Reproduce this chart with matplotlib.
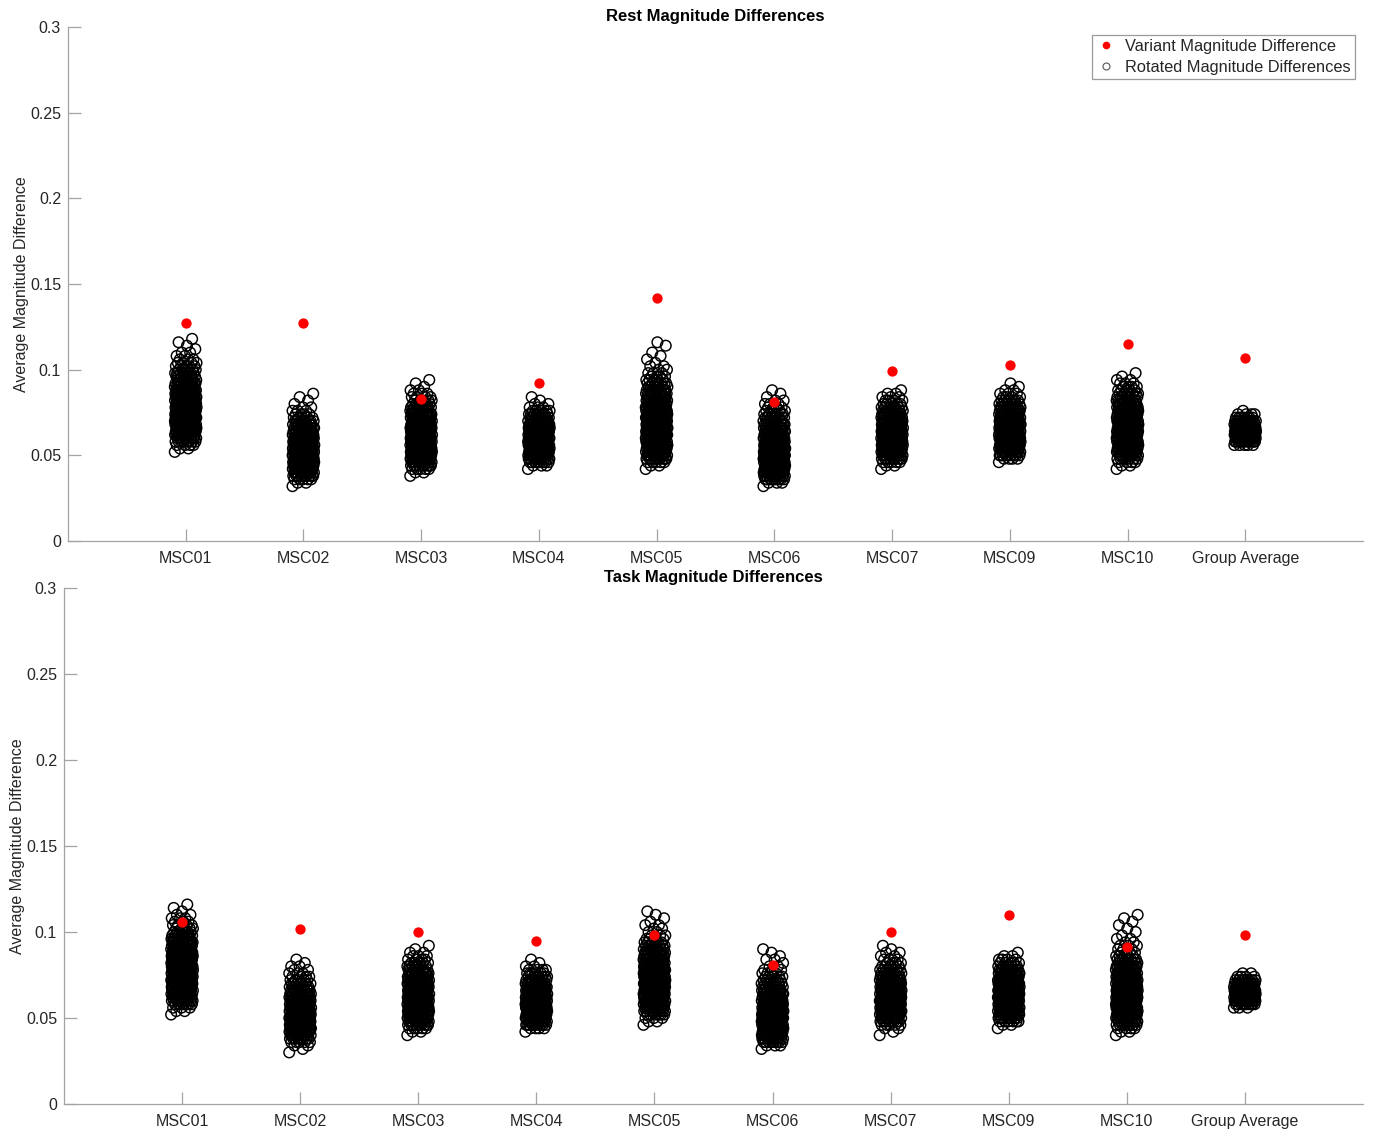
import numpy as np
import matplotlib
matplotlib.use("Agg")
import matplotlib.pyplot as plt
from matplotlib.lines import Line2D

plt.rcParams["font.family"] = ["Liberation Sans", "DejaVu Sans"]

categories = ["MSC01", "MSC02", "MSC03", "MSC04", "MSC05",
              "MSC06", "MSC07", "MSC09", "MSC10", "Group Average"]
y_ticks = [0, 0.05, 0.1, 0.15, 0.2, 0.25, 0.3]
y_tick_labels = ["0", "0.05", "0.1", "0.15", "0.2", "0.25", "0.3"]

# Observed (variant) magnitude differences
rest_variant = [0.127, 0.127, 0.083, 0.092, 0.142, 0.081, 0.099, 0.103, 0.115, 0.107]
task_variant = [0.106, 0.102, 0.100, 0.095, 0.098, 0.081, 0.100, 0.110, 0.091, 0.098]

# Rotated (null) magnitude differences, binned: bin centres (x1e-3) and counts per bin
bin_centres = [30, 32, 34, 36, 38, 40, 42, 44, 46, 48, 50, 52, 54, 56, 58, 60, 62, 64, 66, 68, 70, 72, 74,
               76, 78, 80, 82, 84, 86, 88, 90, 92, 94, 96, 98, 100, 102, 104, 106, 108, 110, 112, 114,
               116, 118, 120]

rest_msc01 = [0, 0, 0, 0, 0, 0, 0, 0, 0, 0, 0, 1, 2, 4, 8, 10, 12, 13, 14, 15, 16, 16, 16,
              16, 16, 16, 15, 14, 13, 12, 11, 10, 9, 8, 7, 6, 5, 4, 3, 2, 2, 1, 1, 1, 1, 0]
rest_msc02 = [0, 1, 2, 5, 9, 11, 13, 14, 15, 16, 16, 16, 16, 15, 14, 13, 12, 11, 10, 8, 7, 5, 4,
              3, 2, 1, 1, 1, 1, 0, 0, 0, 0, 0, 0, 0, 0, 0, 0, 0, 0, 0, 0, 0, 0, 0]
rest_msc03 = [0, 0, 0, 0, 1, 2, 5, 9, 11, 13, 14, 15, 15, 16, 16, 16, 16, 15, 15, 14, 13, 12, 11,
              10, 8, 7, 5, 4, 3, 2, 1, 1, 1, 0, 0, 0, 0, 0, 0, 0, 0, 0, 0, 0, 0, 0]
rest_msc04 = [0, 0, 0, 0, 0, 0, 1, 3, 8, 11, 13, 14, 15, 16, 16, 16, 16, 15, 14, 13, 11, 9, 7,
              5, 3, 2, 1, 1, 0, 0, 0, 0, 0, 0, 0, 0, 0, 0, 0, 0, 0, 0, 0, 0, 0, 0]
rest_msc05 = [0, 0, 0, 0, 0, 0, 1, 2, 5, 9, 11, 12, 13, 14, 15, 15, 16, 16, 16, 16, 16, 15, 15,
              14, 13, 12, 11, 10, 9, 8, 7, 6, 5, 4, 3, 2, 2, 1, 1, 1, 1, 0, 1, 1, 0, 0]
rest_msc06 = [0, 1, 3, 8, 11, 13, 14, 15, 16, 16, 16, 16, 16, 15, 14, 13, 12, 11, 10, 9, 8, 7, 6,
              5, 4, 3, 2, 1, 1, 1, 0, 0, 0, 0, 0, 0, 0, 0, 0, 0, 0, 0, 0, 0, 0, 0]
rest_msc07 = [0, 0, 0, 0, 0, 0, 1, 2, 5, 9, 11, 13, 14, 15, 16, 16, 16, 16, 15, 14, 13, 12, 10,
              9, 7, 5, 4, 3, 2, 1, 0, 0, 0, 0, 0, 0, 0, 0, 0, 0, 0, 0, 0, 0, 0, 0]
rest_msc09 = [0, 0, 0, 0, 0, 0, 0, 0, 1, 4, 9, 11, 13, 14, 15, 16, 16, 16, 16, 15, 14, 13, 12,
              11, 9, 8, 6, 4, 3, 2, 1, 1, 0, 0, 0, 0, 0, 0, 0, 0, 0, 0, 0, 0, 0, 0]
rest_msc10 = [0, 0, 0, 0, 0, 0, 1, 2, 4, 7, 10, 12, 13, 14, 15, 16, 16, 16, 16, 15, 15, 14, 13,
              12, 11, 10, 9, 8, 6, 5, 4, 3, 2, 1, 1, 0, 0, 0, 0, 0, 0, 0, 0, 0, 0, 0]
rest_group = [0, 0, 0, 0, 0, 0, 0, 0, 0, 0, 0, 0, 0, 5, 12, 16, 18, 18, 17, 14, 11, 7, 4,
              1, 0, 0, 0, 0, 0, 0, 0, 0, 0, 0, 0, 0, 0, 0, 0, 0, 0, 0, 0, 0, 0, 0]

task_msc01 = [0, 0, 0, 0, 0, 0, 0, 0, 0, 0, 0, 1, 2, 3, 7, 10, 11, 12, 13, 14, 15, 15, 16,
              16, 16, 16, 16, 15, 15, 14, 13, 12, 11, 10, 8, 7, 5, 4, 3, 3, 2, 1, 1, 1, 0, 0]
task_msc02 = [1, 1, 2, 5, 9, 11, 13, 14, 15, 16, 16, 16, 16, 15, 14, 13, 12, 11, 9, 8, 6, 5, 4,
              3, 2, 2, 1, 1, 0, 0, 0, 0, 0, 0, 0, 0, 0, 0, 0, 0, 0, 0, 0, 0, 0, 0]
task_msc03 = [0, 0, 0, 0, 0, 1, 2, 5, 9, 11, 13, 14, 15, 15, 16, 16, 16, 16, 15, 14, 13, 12, 11,
              10, 8, 7, 5, 4, 3, 2, 1, 1, 0, 0, 0, 0, 0, 0, 0, 0, 0, 0, 0, 0, 0, 0]
task_msc04 = [0, 0, 0, 0, 0, 0, 1, 4, 9, 12, 13, 14, 15, 16, 16, 16, 16, 15, 14, 13, 11, 9, 7,
              6, 4, 2, 1, 1, 0, 0, 0, 0, 0, 0, 0, 0, 0, 0, 0, 0, 0, 0, 0, 0, 0, 0]
task_msc05 = [0, 0, 0, 0, 0, 0, 0, 0, 1, 2, 3, 6, 10, 12, 13, 14, 15, 15, 16, 16, 16, 16, 16,
              15, 15, 14, 13, 12, 11, 10, 8, 7, 6, 4, 3, 2, 2, 2, 1, 1, 1, 1, 0, 0, 0, 0]
task_msc06 = [0, 1, 3, 8, 11, 13, 14, 15, 16, 16, 16, 16, 16, 15, 14, 13, 12, 11, 9, 8, 7, 6, 5,
              4, 3, 2, 1, 2, 1, 1, 1, 0, 0, 0, 0, 0, 0, 0, 0, 0, 0, 0, 0, 0, 0, 0]
task_msc07 = [0, 0, 0, 0, 0, 1, 1, 2, 5, 9, 11, 13, 14, 15, 16, 16, 16, 16, 15, 14, 13, 11, 10,
              8, 7, 5, 4, 3, 2, 2, 1, 1, 0, 0, 0, 0, 0, 0, 0, 0, 0, 0, 0, 0, 0, 0]
task_msc09 = [0, 0, 0, 0, 0, 0, 0, 1, 2, 6, 10, 12, 13, 14, 15, 16, 16, 16, 16, 15, 14, 13, 12,
              10, 9, 7, 5, 4, 2, 1, 0, 0, 0, 0, 0, 0, 0, 0, 0, 0, 0, 0, 0, 0, 0, 0]
task_msc10 = [0, 0, 0, 0, 0, 1, 2, 4, 8, 10, 12, 13, 14, 15, 15, 16, 16, 16, 16, 15, 15, 14, 13,
              12, 11, 10, 8, 7, 5, 4, 3, 3, 2, 2, 1, 1, 1, 1, 1, 1, 1, 0, 0, 0, 0, 0]
task_group = [0, 0, 0, 0, 0, 0, 0, 0, 0, 0, 0, 0, 0, 3, 10, 16, 18, 18, 17, 15, 12, 8, 4,
              2, 0, 0, 0, 0, 0, 0, 0, 0, 0, 0, 0, 0, 0, 0, 0, 0, 0, 0, 0, 0, 0, 0]

rest_rotated = [rest_msc01, rest_msc02, rest_msc03, rest_msc04, rest_msc05,
                rest_msc06, rest_msc07, rest_msc09, rest_msc10, rest_group]
task_rotated = [task_msc01, task_msc02, task_msc03, task_msc04, task_msc05,
                task_msc06, task_msc07, task_msc09, task_msc10, task_group]

AXIS_GRAY = "#a3a3a3"
TEXT_DARK = "#262626"

W, H = 1374, 1133
fig = plt.figure(figsize=(W / 100, H / 100), dpi=100)
ax_rest = fig.add_axes([68 / W, 1 - 541 / H, (1363 - 68) / W, (541 - 27) / H])
ax_task = fig.add_axes([64 / W, 1 - 1104 / H, (1363 - 64) / W, (1104 - 588) / H])


def draw_panel(ax, rotated, variant, title):
    centres = np.asarray(bin_centres, dtype=float) * 1e-3
    for k, counts in enumerate(rotated):
        y = np.repeat(centres, counts)
        idx = np.arange(len(y))
        # spread the circles sideways around the category position
        jitter = ((idx * 0.6180339887) % 1.0 - 0.5) * 2 * 0.093
        ax.scatter(k + 1 + jitter, y, s=58, facecolors="none",
                   edgecolors="black", linewidths=1.05, zorder=2)
    ax.scatter(np.arange(1, len(variant) + 1), variant, s=55, color="#ff0000",
               linewidths=0, zorder=3)

    ax.set_xlim(0, 11)
    ax.set_ylim(0, 0.3)
    ax.set_xticks(np.arange(1, len(categories) + 1))
    ax.set_xticklabels(categories)
    ax.set_yticks(y_ticks)
    ax.set_yticklabels(y_tick_labels)
    for side in ("top", "right"):
        ax.spines[side].set_visible(False)
    for side in ("left", "bottom"):
        ax.spines[side].set_color(AXIS_GRAY)
        ax.spines[side].set_linewidth(0.9)
    ax.tick_params(direction="in", length=9, width=0.9, color=AXIS_GRAY,
                   labelcolor=TEXT_DARK, labelsize=11.5)
    ax.tick_params(axis="x", pad=7)
    ax.tick_params(axis="y", pad=5)
    ax.set_ylabel("Average Magnitude Difference", fontsize=11.5, color=TEXT_DARK, labelpad=1)
    ax.set_title(title, fontweight="bold", fontsize=12, color="black", pad=4)


draw_panel(ax_rest, rest_rotated, rest_variant, "Rest Magnitude Differences")
draw_panel(ax_task, task_rotated, task_variant, "Task Magnitude Differences")

handles = [
    Line2D([], [], linestyle="none", marker="o", markersize=4.5,
           markerfacecolor="#ff0000", markeredgecolor="#ff0000"),
    Line2D([], [], linestyle="none", marker="o", markersize=5,
           markerfacecolor="none", markeredgecolor="#555555", markeredgewidth=0.8),
]
leg = ax_rest.legend(handles, ["Variant Magnitude Difference", "Rotated Magnitude Differences"],
                     loc="upper right", bbox_to_anchor=(1 - 8 / 1295, 1 - 8 / 514),
                     borderaxespad=0, fontsize=11.8, frameon=True, fancybox=False,
                     framealpha=1, edgecolor="#9a9a9a", handlelength=1.2,
                     handletextpad=0.6, borderpad=0.25, labelspacing=0.35)
leg.get_frame().set_linewidth(0.9)
for t in leg.get_texts():
    t.set_color(TEXT_DARK)

fig.savefig("out.png", dpi=100)
